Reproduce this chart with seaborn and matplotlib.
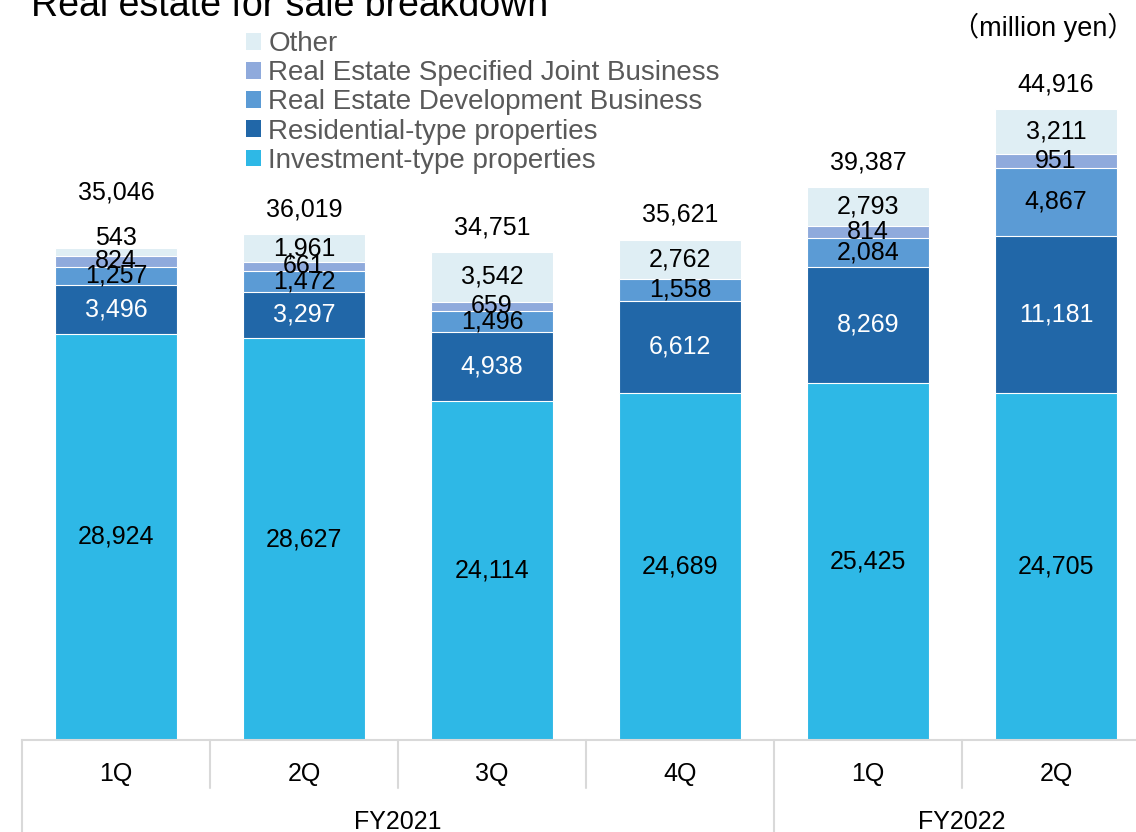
import matplotlib
matplotlib.use("Agg")
import numpy as np
import pandas as pd
import seaborn as sns
import matplotlib.pyplot as plt
from matplotlib.patches import Patch
from matplotlib.transforms import blended_transform_factory

# ---- data (million yen) ----
quarters = ["1Q", "2Q", "3Q", "4Q", "1Q", "2Q"]
fiscal_years = ["FY2021", "FY2021", "FY2021", "FY2021", "FY2022", "FY2022"]
investment = [28924, 28627, 24114, 24689, 25425, 24705]
residential = [3496, 3297, 4938, 6612, 8269, 11181]
development = [1257, 1472, 1496, 1558, 2084, 4867]
joint = [824, 661, 659, 0, 814, 951]
other = [543, 1961, 3542, 2762, 2793, 3211]
totals = [35046, 36019, 34751, 35621, 39387, 44916]

layer_names = [
    "Investment-type properties",
    "Residential-type properties",
    "Real Estate Development Business",
    "Real Estate Specified Joint Business",
    "Other",
]
layer_values = [investment, residential, development, joint, other]
layer_colors = ["#2EB8E6", "#2167A8", "#5B9BD5", "#8FAADC", "#DFEEF4"]
label_colors = ["black", "white", "black", "black", "black"]

periods = [f"{fy} {q}" for fy, q in zip(fiscal_years, quarters)]

df = pd.DataFrame({"period": periods})
for name, vals in zip(layer_names, layer_values):
    df[name] = vals
cum = df[layer_names].cumsum(axis=1)

sns.set_theme(style="white")
plt.rcParams["font.family"] = ["Liberation Sans", "Noto Sans CJK JP", "DejaVu Sans"]

W, H = 1136, 832
fig = plt.figure(figsize=(W / 100, H / 100), dpi=100)
ax = fig.add_axes([22 / W, 92 / H, 1128 / W, 702 / H])

# stacked bars: draw cumulative heights from the top layer downwards
for name, color in reversed(list(zip(layer_names, layer_colors))):
    sns.barplot(x=df["period"], y=cum[name], order=periods, color=color,
                saturation=1, width=0.645, edgecolor="white", linewidth=0.8,
                ax=ax)

ax.set_xlim(-0.5, 5.5)
ax.set_ylim(0, 50000)
ax.set_xlabel("")
ax.set_ylabel("")
ax.set_xticks([])
ax.set_yticks([])
for side in ["left", "right", "top"]:
    ax.spines[side].set_visible(False)
ax.spines["bottom"].set_color("#D9D9D9")
ax.spines["bottom"].set_linewidth(1.5)

# segment value labels
nudges = {(4, 0): 10}
for li, (name, tcolor) in enumerate(zip(layer_names, label_colors)):
    for j in range(len(periods)):
        v = df[name].iloc[j]
        if v <= 0:
            continue
        y = cum[name].iloc[j] - v / 2
        ax.annotate(f"{v:,}", (j, y), xytext=(0, nudges.get((li, j), 0)),
                    textcoords="offset points", ha="center", va="center",
                    fontsize=18, color=tcolor)

# totals above the bars
total_offsets = [40, 18, 18, 18, 18, 18]
for j, t in enumerate(totals):
    ax.annotate(f"{t:,}", (j, t), xytext=(0, total_offsets[j]),
                textcoords="offset points", ha="center", va="center",
                fontsize=18, color="black")

# category table under the axis
tr = blended_transform_factory(ax.transData, ax.transAxes)
for j, q in enumerate(quarters):
    ax.text(j, -34 / 702, q, transform=tr, ha="center", va="center",
            fontsize=18, color="black")
for fy in dict.fromkeys(fiscal_years):
    idx = [i for i, f in enumerate(fiscal_years) if f == fy]
    ax.text(np.mean(idx), -82 / 702, fy, transform=tr, ha="center",
            va="center", fontsize=18, color="black")

group_edges = [-0.5] + [i + 0.5 for i in range(len(fiscal_years) - 1)
                        if fiscal_years[i] != fiscal_years[i + 1]]
for k in range(len(quarters)):
    xb = k - 0.5
    y_end = -92 / 702 if xb in group_edges else -48 / 702
    ax.plot([xb, xb], [0, y_end], transform=tr, color="#D9D9D9", lw=1.5,
            clip_on=False)

# legend (top layer first)
handles = [Patch(facecolor=c, edgecolor="none")
           for c in reversed(layer_colors)]
leg = fig.legend(handles, list(reversed(layer_names)), loc="upper left",
                 bbox_to_anchor=(246 / W, 1 - 31 / H), frameon=False,
                 fontsize=20, labelcolor="#595959", handlelength=0.55,
                 handleheight=0.55, handletextpad=0.25, labelspacing=0.115,
                 borderpad=0, borderaxespad=0)

fig.text(31 / W, 1 - 16 / H, "Real estate for sale breakdown", fontsize=27,
         ha="left", va="baseline", color="black")
fig.text(1043 / W, 1 - 27 / H, "（million yen）", fontsize=19.5, ha="center",
         va="center", color="black")

fig.savefig("out.png", dpi=100)
